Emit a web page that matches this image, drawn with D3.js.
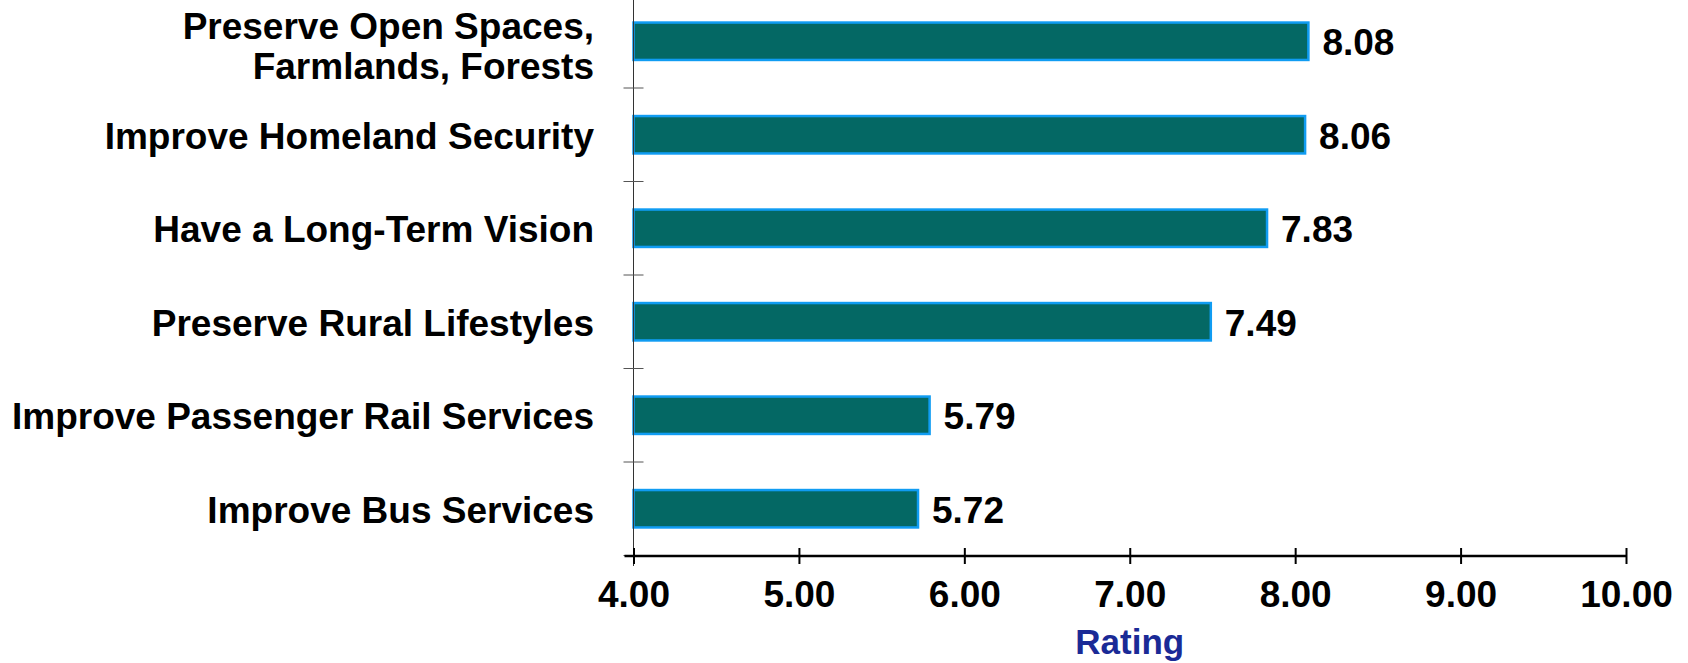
<!DOCTYPE html>
<html>
<head>
<meta charset="utf-8">
<script src="https://cdn.jsdelivr.net/npm/d3@7/dist/d3.min.js"></script>
<style>
  html, body { margin: 0; padding: 0; background: #ffffff; }
  svg { display: block; }
  text { font-family: "Liberation Sans", Arial, Helvetica, sans-serif; font-weight: bold; }
</style>
</head>
<body>
<svg id="chart" width="1688" height="663"></svg>
<script>
// Priorities, top to bottom, with their average rating
const categories = [
  ["Preserve Open Spaces,", "Farmlands, Forests"],
  ["Improve Homeland Security"],
  ["Have a Long-Term Vision"],
  ["Preserve Rural Lifestyles"],
  ["Improve Passenger Rail Services"],
  ["Improve Bus Services"]
];
const ratings = [8.08, 8.06, 7.83, 7.49, 5.79, 5.72];
const xTicks = [4, 5, 6, 7, 8, 9, 10];
const xTitle = "Rating";

const svg = d3.select("#chart");

const x = d3.scaleLinear().domain([4, 10]).range([633.5, 1626]);
const y = d3.scaleBand()
  .domain(d3.range(categories.length))
  .range([-5.5, 555.5])
  .paddingInner(0.6)
  .paddingOuter(0.3);

const axisY = 556;
const labelSize = 37;

// Bars
svg.append("g")
  .selectAll("rect")
  .data(ratings)
  .join("rect")
  .attr("x", x(4))
  .attr("y", (d, i) => y(i))
  .attr("width", d => x(d) - x(4))
  .attr("height", y.bandwidth())
  .attr("fill", "#046864")
  .attr("stroke", "#109cf2")
  .attr("stroke-width", 2.5);

// Value labels
svg.append("g")
  .selectAll("text")
  .data(ratings)
  .join("text")
  .attr("x", d => x(d) + 14)
  .attr("y", (d, i) => y(i) + y.bandwidth() / 2 + 14)
  .attr("font-size", labelSize)
  .attr("fill", "#000")
  .text(d => d.toFixed(2));

// Vertical axis line and separators between categories
svg.append("line")
  .attr("x1", x(4)).attr("x2", x(4))
  .attr("y1", 0).attr("y2", 566)
  .attr("stroke", "#333")
  .attr("stroke-width", 1);

svg.append("g")
  .selectAll("line")
  .data(d3.range(1, categories.length + 1))
  .join("line")
  .attr("x1", x(4) - 10).attr("x2", x(4) + 10)
  .attr("y1", k => y.range()[0] + k * y.step())
  .attr("y2", k => y.range()[0] + k * y.step())
  .attr("stroke", "#555")
  .attr("stroke-width", 1);

// Category labels
const labels = svg.append("g")
  .selectAll("text")
  .data(categories)
  .join("text")
  .attr("text-anchor", "end")
  .attr("font-size", labelSize)
  .attr("fill", "#000");

labels.each(function(lines, i) {
  const cy = y(i) + y.bandwidth() / 2;
  const t = d3.select(this);
  if (lines.length === 1) {
    t.append("tspan").attr("x", 594).attr("y", cy + 14).text(lines[0]);
  } else {
    t.append("tspan").attr("x", 594).attr("y", cy - 2).text(lines[0]);
    t.append("tspan").attr("x", 594).attr("y", cy + 37.5).text(lines[1]);
  }
});

// Horizontal axis
const xAxis = svg.append("g")
  .attr("transform", `translate(0,${axisY})`)
  .call(d3.axisBottom(x)
    .tickValues(xTicks)
    .tickFormat(d3.format(".2f"))
    .tickSize(8)
    .tickSizeOuter(0));

xAxis.select(".domain").remove();
xAxis.insert("line", ":first-child")
  .attr("x1", x(4) - 9).attr("x2", x(10))
  .attr("y1", 0).attr("y2", 0)
  .attr("stroke", "#000")
  .attr("stroke-width", 2.5);
xAxis.selectAll(".tick line")
  .attr("y1", -8).attr("y2", 8)
  .attr("stroke", "#000")
  .attr("stroke-width", 2);
xAxis.selectAll(".tick text")
  .attr("y", 50.5)
  .attr("dy", 0)
  .attr("font-size", labelSize)
  .attr("font-family", "Liberation Sans, Arial, sans-serif")
  .attr("font-weight", "bold")
  .attr("fill", "#000");

// Axis title
svg.append("text")
  .attr("x", (x(4) + x(10)) / 2)
  .attr("y", 654)
  .attr("text-anchor", "middle")
  .attr("font-size", 35)
  .attr("fill", "#1a2a96")
  .text(xTitle);
</script>
</body>
</html>
